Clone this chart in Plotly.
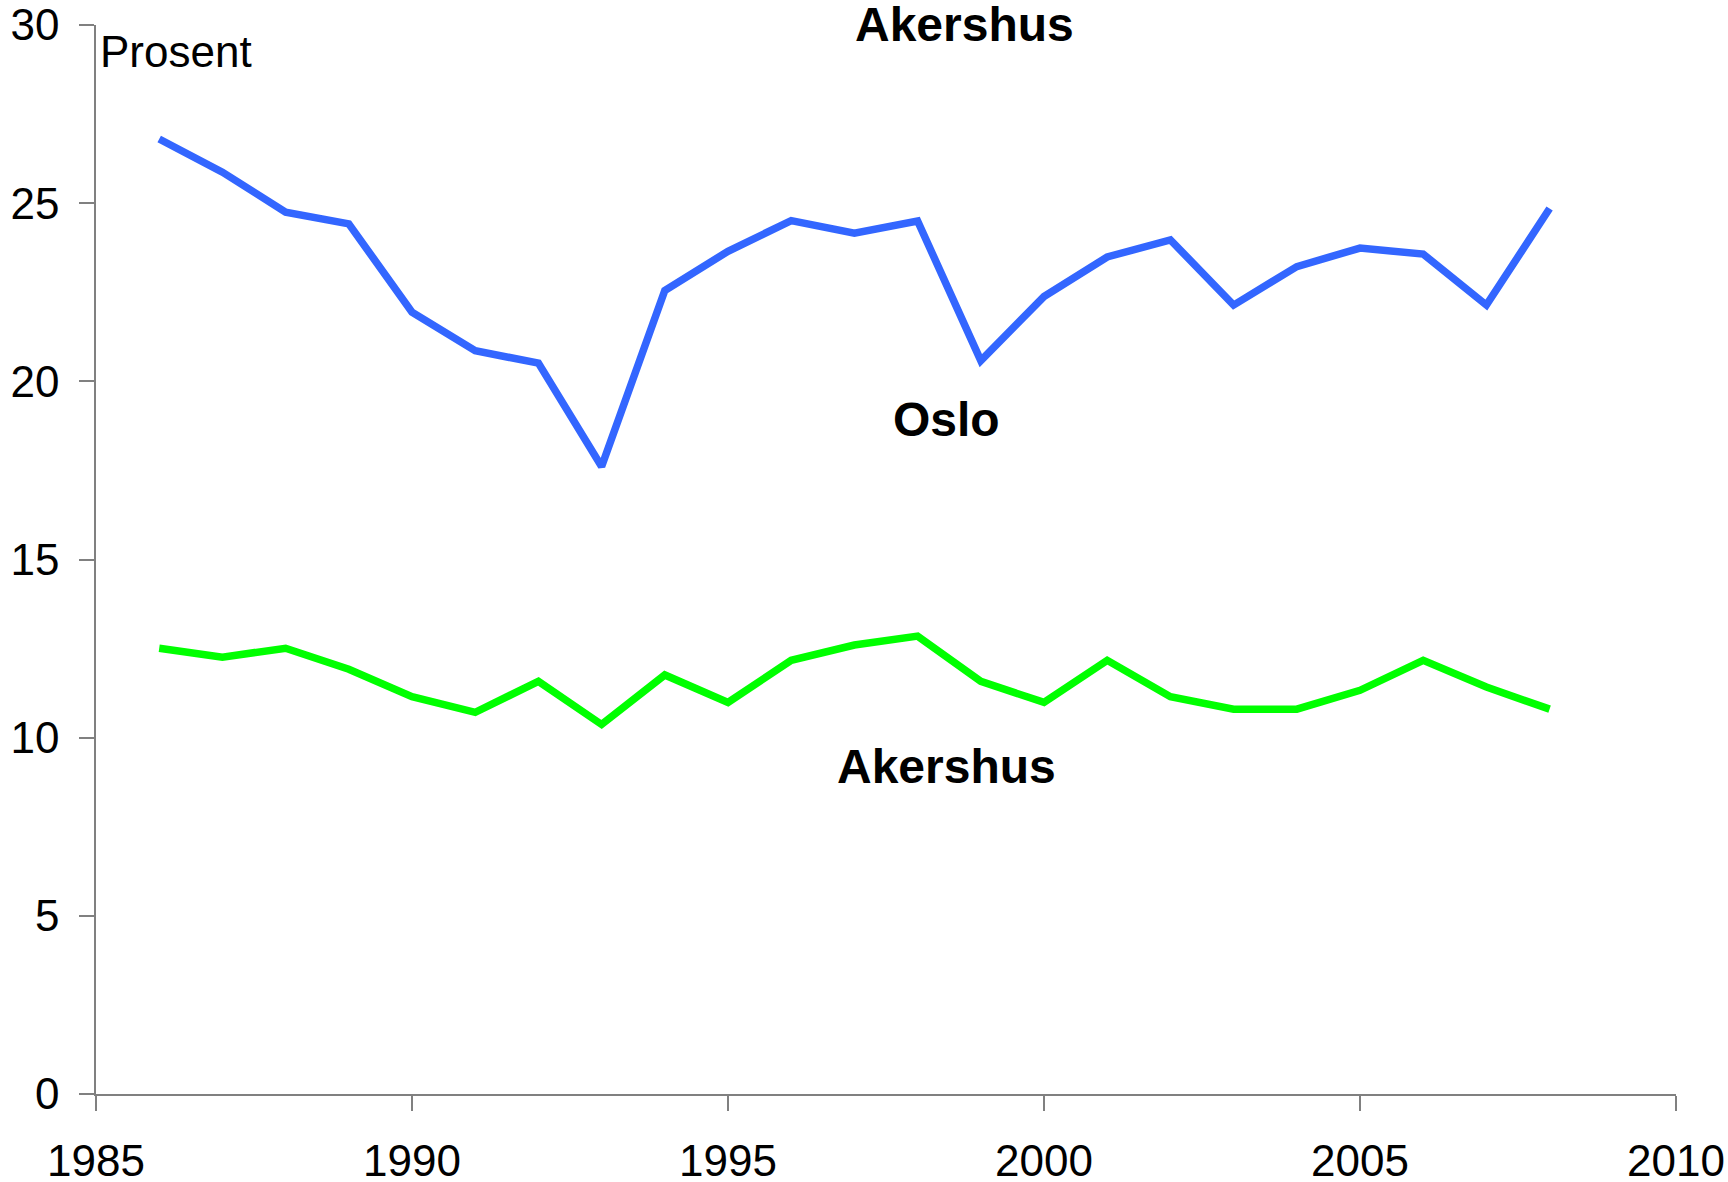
import plotly.graph_objects as go

years = list(range(1986, 2009))
oslo = [26.8, 25.87, 24.75, 24.42, 21.94, 20.86, 20.51, 17.61, 22.55, 23.65, 24.51,
        24.16, 24.5, 20.58, 22.38, 23.49, 23.97, 22.14, 23.22, 23.74, 23.57, 22.14, 24.85]
akershus = [12.51, 12.26, 12.51, 11.92, 11.15, 10.71, 11.58, 10.37, 11.76, 10.99, 12.17,
            12.6, 12.85, 11.58, 10.99, 12.17, 11.15, 10.8, 10.8, 11.33, 12.17, 11.42, 10.8]

x_ticks = [1985, 1990, 1995, 2000, 2005, 2010]
y_ticks = [0, 5, 10, 15, 20, 25, 30]

FONT = "Arial, Liberation Sans, sans-serif"

fig = go.Figure()
fig.add_trace(go.Scatter(x=years, y=oslo, mode="lines", name="Oslo",
                         line=dict(color="#3366FF", width=7.5)))
fig.add_trace(go.Scatter(x=years, y=akershus, mode="lines", name="Akershus",
                         line=dict(color="#00FF00", width=7.5)))

axis_common = dict(showline=True, linecolor="#808080", linewidth=1.5,
                   ticks="outside", tickcolor="#808080", tickwidth=1.5, ticklen=15,
                   showgrid=False, zeroline=False,
                   tickfont=dict(family=FONT, size=44, color="black"))

fig.update_xaxes(range=[1985, 2010], tickvals=x_ticks, ticktext=[str(v) for v in x_ticks],
                 ticklabelstandoff=12, **axis_common)
fig.update_yaxes(range=[0, 30], tickvals=y_ticks, ticktext=[str(v) for v in y_ticks],
                 ticklabelstandoff=11, **axis_common)

fig.add_annotation(x=0, y=1, xref="paper", yref="paper", xanchor="left", yanchor="top",
                   text="Prosent", showarrow=False, xshift=2, yshift=0,
                   font=dict(family=FONT, size=44, color="black"))
fig.add_annotation(x=1998.74, y=30.0, text="<b>Akershus</b>", showarrow=False, yshift=1,
                   font=dict(family=FONT, size=48, color="black"))
fig.add_annotation(x=1998.45, y=18.94, text="<b>Oslo</b>", showarrow=False,
                   font=dict(family=FONT, size=48, color="black"))
fig.add_annotation(x=1998.45, y=9.19, text="<b>Akershus</b>", showarrow=False,
                   font=dict(family=FONT, size=48, color="black"))

fig.update_layout(width=1728, height=1182, showlegend=False,
                  margin=dict(l=96, r=52, t=25, b=88, autoexpand=False),
                  paper_bgcolor="white", plot_bgcolor="white",
                  font=dict(family=FONT))

fig.write_html("out.html", config={"displayModeBar": False},
               post_script="document.body.style.margin='0';document.body.style.overflow='hidden';")
